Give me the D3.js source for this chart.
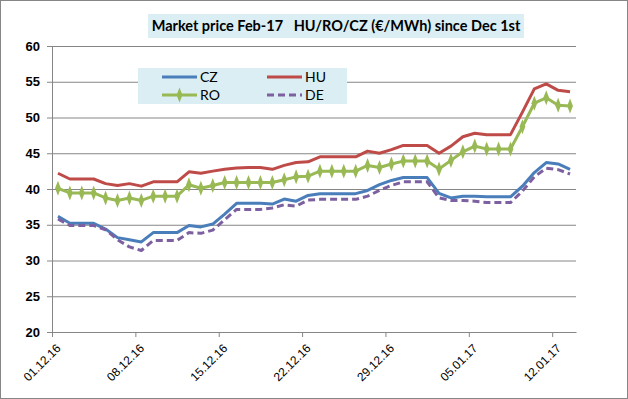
<!DOCTYPE html>
<html>
<head>
<meta charset="utf-8">
<script src="https://cdn.jsdelivr.net/npm/d3@7"></script>
<style>
  body { margin: 0; background: #fff; }
  svg { display: block; font-family: Lato, "Open Sans", sans-serif; }
</style>
</head>
<body>
<div id="chart"></div>
<script>
// daily prices, Dec 1st 2016 .. Jan 13th 2017
const dates = [
  "2016-12-01","2016-12-02","2016-12-03","2016-12-04","2016-12-05","2016-12-06","2016-12-07","2016-12-08",
  "2016-12-09","2016-12-10","2016-12-11","2016-12-12","2016-12-13","2016-12-14","2016-12-15","2016-12-16",
  "2016-12-17","2016-12-18","2016-12-19","2016-12-20","2016-12-21","2016-12-22","2016-12-23","2016-12-24",
  "2016-12-25","2016-12-26","2016-12-27","2016-12-28","2016-12-29","2016-12-30","2016-12-31","2017-01-01",
  "2017-01-02","2017-01-03","2017-01-04","2017-01-05","2017-01-06","2017-01-07","2017-01-08","2017-01-09",
  "2017-01-10","2017-01-11","2017-01-12","2017-01-13"
];
const czValues = [
  36.2, 35.2, 35.2, 35.2, 34.4, 33.2, 32.9, 32.6, 33.9, 33.9, 33.9, 34.9, 34.7, 35.1, 36.5, 38.0,
  38.0, 38.0, 37.9, 38.6, 38.3, 39.1, 39.35, 39.35, 39.35, 39.35, 39.8, 40.6, 41.2, 41.6, 41.6, 41.6,
  39.4, 38.75, 39.0, 39.0, 38.9, 38.9, 38.9, 40.4, 42.3, 43.7, 43.5, 42.75
];
const huValues = [
  42.2, 41.4, 41.4, 41.4, 40.75, 40.5, 40.75, 40.4, 41.0, 41.0, 41.0, 42.4, 42.2, 42.5, 42.75, 42.95,
  43.0, 43.0, 42.75, 43.3, 43.7, 43.8, 44.5, 44.5, 44.5, 44.5, 45.3, 45.0, 45.5, 46.1, 46.1, 46.1,
  45.0, 46.0, 47.3, 47.8, 47.6, 47.6, 47.6, 50.75, 54.0, 54.7, 53.8, 53.6
];
const roValues = [
  40.1, 39.45, 39.45, 39.45, 38.75, 38.4, 38.75, 38.4, 39.0, 39.0, 39.0, 40.6, 40.1, 40.5, 40.9, 40.9,
  40.9, 40.9, 40.9, 41.3, 41.7, 41.8, 42.5, 42.5, 42.5, 42.5, 43.3, 43.0, 43.5, 43.9, 43.9, 43.9,
  42.8, 44.0, 45.2, 46.0, 45.6, 45.6, 45.6, 48.7, 52.0, 52.75, 51.7, 51.6
];
const deValues = [
  35.8, 34.9, 34.9, 34.9, 34.3, 32.9, 31.9, 31.4, 32.8, 32.8, 32.8, 33.9, 33.8, 34.25, 35.7, 37.15,
  37.15, 37.15, 37.35, 37.8, 37.6, 38.45, 38.55, 38.55, 38.55, 38.55, 39.0, 39.8, 40.5, 41.0, 41.0, 41.0,
  38.75, 38.4, 38.4, 38.3, 38.1, 38.1, 38.1, 39.7, 41.7, 42.9, 42.7, 42.1
];
const yTicks = [20, 25, 30, 35, 40, 45, 50, 55, 60];
const title = "Market price Feb-17   HU/RO/CZ (€/MWh) since Dec 1st";

const width = 628, height = 399;
const plot = { left: 52, right: 576, top: 46, bottom: 332 };

const parse = d3.utcParse("%Y-%m-%d");
const days = dates.map(parse);

const series = [
  { name: "CZ", values: czValues, color: "#4a7ebb", dash: null, marker: false },
  { name: "HU", values: huValues, color: "#be4b48", dash: null, marker: false },
  { name: "RO", values: roValues, color: "#98b954", dash: null, marker: true },
  { name: "DE", values: deValues, color: "#7d60a0", dash: "7,4", marker: false }
];

const svg = d3.select("#chart").append("svg")
  .attr("width", width)
  .attr("height", height);

// outer frame
svg.append("rect")
  .attr("x", 0.5).attr("y", 0.5)
  .attr("width", width - 1).attr("height", height - 1)
  .attr("fill", "#fff")
  .attr("stroke", "#868686");

// date axis, points sit in the middle of each day
const xScale = d3.scaleUtc()
  .domain([days[0], d3.utcDay.offset(days[days.length - 1], 1)])
  .range([plot.left, plot.right]);
const midDay = (d) => xScale(d3.utcHour.offset(d, 12));

const yScale = d3.scaleLinear()
  .domain([20, 60])
  .range([plot.bottom, plot.top]);

// gridlines + y labels
const yAxis = d3.axisLeft(yScale)
  .tickValues(yTicks)
  .tickSize(-(plot.right - plot.left))
  .tickPadding(12);

const gy = svg.append("g")
  .attr("transform", `translate(${plot.left},0)`)
  .call(yAxis);
gy.select(".domain").remove();
gy.selectAll(".tick line")
  .attr("stroke", "#868686")
  .attr("x1", -5);
gy.selectAll(".tick text")
  .attr("fill", "#000")
  .style("font-size", "13px")
  .style("font-weight", "bold");

// x axis, one label a week
const xAxis = d3.axisBottom(xScale)
  .tickValues(d3.utcDay.range(days[0], xScale.domain()[1], 7))
  .tickFormat(d3.utcFormat("%d.%m.%y"))
  .tickSize(5)
  .tickSizeOuter(0);

const gx = svg.append("g")
  .attr("transform", `translate(0,${plot.bottom})`)
  .call(xAxis);
gx.select(".domain").attr("stroke", "#868686");
gx.selectAll(".tick line").attr("stroke", "#868686");
gx.selectAll(".tick text")
  .attr("fill", "#000")
  .style("font-size", "12px")
  .attr("text-anchor", "end")
  .attr("dy", null)
  .attr("y", 0)
  .attr("transform", "translate(9,17) rotate(-45)");

// y axis line
svg.append("line")
  .attr("x1", plot.left + 0.5).attr("x2", plot.left + 0.5)
  .attr("y1", plot.top).attr("y2", plot.bottom + 5)
  .attr("stroke", "#868686");

// series lines
const line = d3.line()
  .x((d) => midDay(d.date))
  .y((d) => yScale(d.value));

series.forEach((s) => {
  const pts = days.map((d, i) => ({ date: d, value: s.values[i] }));
  svg.append("path")
    .datum(pts)
    .attr("fill", "none")
    .attr("stroke", s.color)
    .attr("stroke-width", 3)
    .attr("stroke-linejoin", "round")
    .attr("stroke-dasharray", s.dash)
    .attr("d", line);
  if (s.marker) {
    svg.append("g")
      .selectAll("path")
      .data(pts)
      .enter()
      .append("path")
      .attr("d", d3.symbol(d3.symbolDiamond, 45))
      .attr("transform", (d) => `translate(${midDay(d.date)},${yScale(d.value)}) scale(0.8,1.2)`)
      .attr("fill", s.color);
  }
});

// title box
svg.append("rect")
  .attr("x", 148).attr("y", 14)
  .attr("width", 376).attr("height", 24)
  .attr("fill", "#daeef3");
svg.append("text")
  .attr("x", 336).attr("y", 31)
  .attr("text-anchor", "middle")
  .attr("xml:space", "preserve")
  .style("white-space", "pre")
  .style("font-size", "14.5px")
  .style("font-weight", "bold")
  .text(title);

// legend
const legend = svg.append("g");
legend.append("rect")
  .attr("x", 138).attr("y", 68)
  .attr("width", 209).attr("height", 36)
  .attr("fill", "#daeef3");

const legendPos = [
  { x: 162, y: 77 }, { x: 267, y: 77 }, { x: 162, y: 95 }, { x: 267, y: 95 }
];
series.forEach((s, i) => {
  const p = legendPos[i];
  legend.append("line")
    .attr("x1", p.x).attr("x2", p.x + 35)
    .attr("y1", p.y).attr("y2", p.y)
    .attr("stroke", s.color)
    .attr("stroke-width", 3)
    .attr("stroke-dasharray", s.dash);
  if (s.marker) {
    legend.append("path")
      .attr("d", d3.symbol(d3.symbolDiamond, 45))
      .attr("transform", `translate(${p.x + 17.5},${p.y}) scale(0.8,1.2)`)
      .attr("fill", s.color);
  }
  legend.append("text")
    .attr("x", p.x + 38).attr("y", p.y + 5)
    .style("font-size", "14px")
    .text(s.name);
});
</script>
</body>
</html>
